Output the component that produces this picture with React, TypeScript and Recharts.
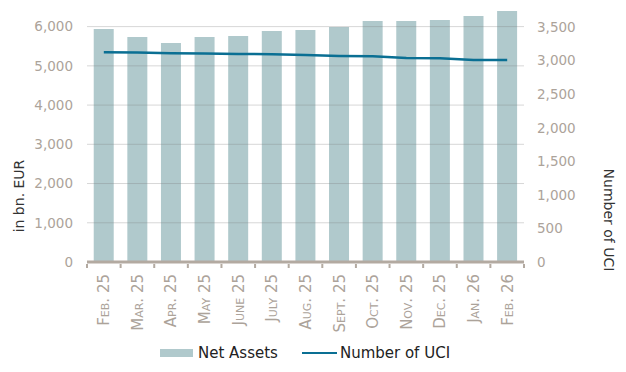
import React from 'react';
import { ComposedChart, Bar, Line, XAxis, YAxis, ReferenceLine } from 'recharts';

const months = ['Feb. 25', 'Mar. 25', 'Apr. 25', 'May 25', 'June 25', 'July 25', 'Aug. 25', 'Sept. 25', 'Oct. 25', 'Nov. 25', 'Dec. 25', 'Jan. 26', 'Feb. 26'];
const netAssets = [5940, 5735, 5582, 5735, 5761, 5888, 5914, 5990, 6143, 6143, 6169, 6271, 6398];
const numberOfUci = [3127, 3122, 3112, 3107, 3101, 3097, 3086, 3071, 3067, 3041, 3037, 3011, 3011];
const leftTicks = [0, 1000, 2000, 3000, 4000, 5000, 6000];
const rightTicks = [0, 500, 1000, 1500, 2000, 2500, 3000, 3500];

const data = months.map((m, i) => ({ month: m, assets: netAssets[i], uci: numberOfUci[i] }));

const W = 626;
const H = 372;
const LEFT_W = 87;
const RIGHT_W = 102;
const BAND = (W - LEFT_W - RIGHT_W) / months.length;
const FONT = '"DejaVu Sans", Verdana, sans-serif';
const TICK_COLOR = '#aca39a';
const BAR_COLOR = '#b0c9cc';
const LINE_COLOR = '#0a6f93';

const fmt = (v: number) => v.toLocaleString('en-US');

const XTick = (props: any) => {
  const { x, y, payload, index } = props;
  return (
    <g>
      <rect x={x - BAND / 2 - 1} y={y - 6} width={2} height={4} fill="#b3aaa1" />
      {index === months.length - 1 && (
        <rect x={x + BAND / 2 - 1} y={y - 6} width={2} height={4} fill="#b3aaa1" />
      )}
      <text
        x={x}
        y={y + 4}
        transform={`rotate(-90, ${x}, ${y + 4})`}
        textAnchor="end"
        dy="0.36em"
        fill={TICK_COLOR}
        fontFamily={FONT}
        fontSize={15}
        style={{ fontVariant: 'small-caps' }}
      >
        {payload.value}
      </text>
    </g>
  );
};

export default function App() {
  return (
    <div style={{ position: 'absolute', left: 0, top: 0, width: W, height: H, background: '#fff' }}>
      <ComposedChart
        width={W}
        height={H}
        data={data}
        margin={{ top: 7, right: 0, left: 0, bottom: 40 }}
        barCategoryGap="20%"
      >
        <XAxis
          dataKey="month"
          interval={0}
          height={70}
          tickLine={false}
          axisLine={{ stroke: '#b3aaa1', strokeWidth: 3 }}
          tick={<XTick />}
        />
        <YAxis
          yAxisId="left"
          width={LEFT_W}
          domain={[0, 6500]}
          ticks={leftTicks}
          tickFormatter={fmt}
          axisLine={false}
          tickLine={false}
          tickMargin={8}
          tick={{ fill: TICK_COLOR, fontSize: 13.5, fontFamily: FONT }}
          label={{
            content: () => (
              <text
                x={24}
                y={196}
                transform="rotate(-90, 24, 196)"
                textAnchor="middle"
                fill="#333"
                fontFamily={FONT}
                fontSize={14}
              >
                in bn. EUR
              </text>
            ),
          }}
        />
        <YAxis
          yAxisId="right"
          orientation="right"
          width={RIGHT_W}
          domain={[0, 3800]}
          ticks={rightTicks}
          tickFormatter={fmt}
          axisLine={false}
          tickLine={false}
          tickMargin={7}
          tick={{ fill: TICK_COLOR, fontSize: 13.5, fontFamily: FONT }}
          label={{
            content: () => (
              <text
                x={604}
                y={220}
                transform="rotate(90, 604, 220)"
                textAnchor="middle"
                fill="#333"
                fontFamily={FONT}
                fontSize={14}
              >
                Number of UCI
              </text>
            ),
          }}
        />
        <Bar yAxisId="left" dataKey="assets" fill={BAR_COLOR} isAnimationActive={false} />
        {leftTicks.slice(1).map((t) => (
          <ReferenceLine key={t} yAxisId="left" y={t} stroke="#7a7a7a" strokeOpacity={0.3} ifOverflow="visible" />
        ))}
        <Line
          yAxisId="right"
          dataKey="uci"
          stroke={LINE_COLOR}
          strokeWidth={2.5}
          dot={false}
          type="linear"
          isAnimationActive={false}
        />
      </ComposedChart>
      <div
        style={{
          position: 'absolute',
          top: 344,
          left: 160,
          display: 'flex',
          alignItems: 'center',
          fontFamily: FONT,
          fontSize: 15,
          color: '#222',
          whiteSpace: 'nowrap',
        }}
      >
        <span style={{ display: 'inline-block', width: 33, height: 8, background: BAR_COLOR, marginRight: 5 }} />
        <span>Net Assets</span>
        <span style={{ display: 'inline-block', width: 35, height: 2.5, background: LINE_COLOR, marginLeft: 24, marginRight: 3 }} />
        <span>Number of UCI</span>
      </div>
    </div>
  );
}
